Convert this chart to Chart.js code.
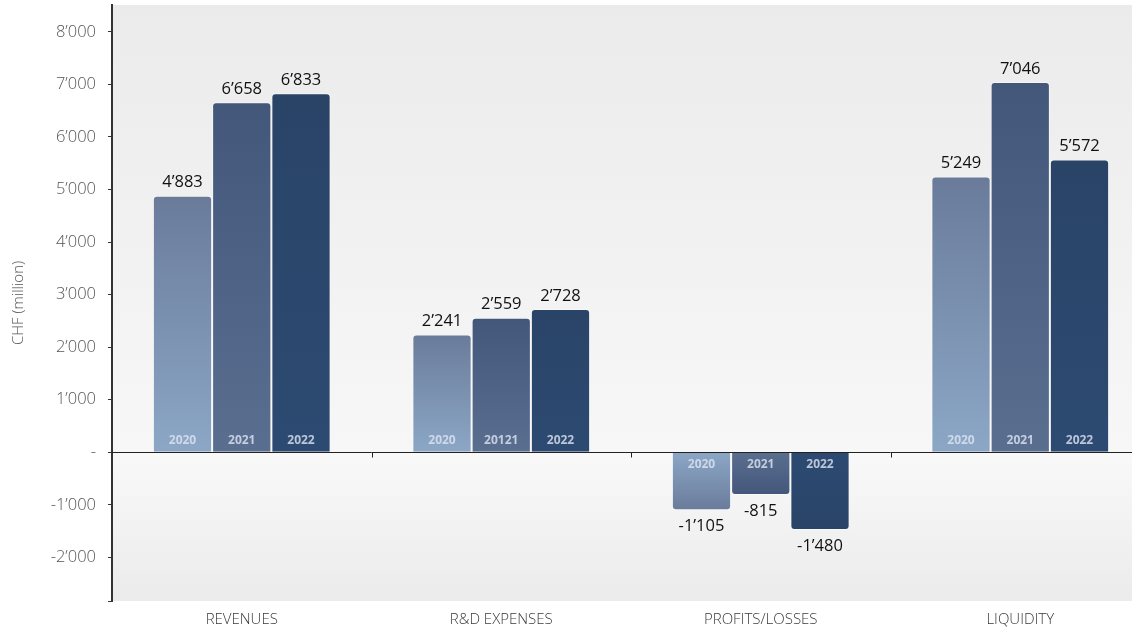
<!DOCTYPE html>
<html>
<head>
<meta charset="utf-8">
<script src="https://cdn.jsdelivr.net/npm/chart.js@4/dist/chart.umd.min.js"></script>
<style>
    html, body { margin: 0; padding: 0; background: #ffffff; overflow: hidden; }
    #wrap { width: 1150px; height: 628px; position: relative; }
</style>
</head>
<body>
<div id="wrap"><canvas id="FinanceChart"></canvas></div>
<script>
var categories = ["REVENUES", "R&D EXPENSES", "PROFITS/LOSSES", "LIQUIDITY"];
var years = ["2020", "2021", "2022"];
var values2020 = [4883, 2241, -1105, 5249];
var values2021 = [6658, 2559, -815, 7046];
var values2022 = [6833, 2728, -1480, 5572];
// year captions printed inside the bars (R&D 2021 reads "20121" in the source)
var yearCaptions = [
    ["2020", "2021", "2022"],
    ["2020", "20121", "2022"],
    ["2020", "2021", "2022"],
    ["2020", "2021", "2022"]
];
var yTickValues = [-2000, -1000, 0, 1000, 2000, 3000, 4000, 5000, 6000, 7000, 8000];
var yMin = -2830;
var yMax = 8510;

// tip colour, base colour (near zero)
var barColors = [
    ["#6a7b9a", "#8ca7c6"],
    ["#42577a", "#5a6e90"],
    ["#294467", "#2d4a72"]
];

function formatSwiss(value) {
    if (value === 0) {
        return "-";
    }
    var sign = value < 0 ? "-" : "";
    var text = String(Math.abs(value));
    return sign + text.replace(/\B(?=(\d{3})+(?!\d))/g, "\u2019");
}

function barGradient(context, index) {
    var chart = context.chart;
    var area = chart.chartArea;
    if (!area || !context.parsed) {
        return barColors[index][0];
    }
    var scale = chart.scales.y;
    var base = scale.getPixelForValue(0);
    var tip = scale.getPixelForValue(context.parsed.y);
    if (Math.abs(base - tip) < 1) {
        return barColors[index][0];
    }
    var gradient = chart.ctx.createLinearGradient(0, tip, 0, base);
    gradient.addColorStop(0, barColors[index][0]);
    gradient.addColorStop(1, barColors[index][1]);
    return gradient;
}

var backgroundPlugin = {
    id: "background",
    beforeDraw: function (chart) {
        var ctx = chart.ctx;
        var area = chart.chartArea;
        var zero = chart.scales.y.getPixelForValue(0);
        ctx.save();
        ctx.fillStyle = "#ffffff";
        ctx.fillRect(0, 0, chart.width, chart.height);
        var top = ctx.createLinearGradient(0, area.top, 0, zero);
        top.addColorStop(0, "#ebebeb");
        top.addColorStop(1, "#f7f7f7");
        ctx.fillStyle = top;
        ctx.fillRect(area.left, area.top, area.right - area.left, zero - area.top);
        var bottom = ctx.createLinearGradient(0, zero, 0, area.bottom);
        bottom.addColorStop(0, "#f9f9f9");
        bottom.addColorStop(1, "#ebebeb");
        ctx.fillStyle = bottom;
        ctx.fillRect(area.left, zero, area.right - area.left, area.bottom - zero);
        ctx.restore();
    }
};

var zeroLinePlugin = {
    id: "zeroLine",
    afterDatasetsDraw: function (chart) {
        var ctx = chart.ctx;
        var area = chart.chartArea;
        var x = chart.scales.x;
        var zero = Math.round(chart.scales.y.getPixelForValue(0)) + 0.5;
        ctx.save();
        ctx.strokeStyle = "#222222";
        ctx.lineWidth = 1;
        ctx.beginPath();
        ctx.moveTo(area.left, zero);
        ctx.lineTo(area.right, zero);
        for (var i = 1; i < categories.length; i++) {
            var bx = Math.round((x.getPixelForValue(i - 1) + x.getPixelForValue(i)) / 2) + 0.5;
            ctx.moveTo(bx, zero);
            ctx.lineTo(bx, zero + 5);
        }
        ctx.stroke();
        ctx.restore();
    }
};

var labelPlugin = {
    id: "barLabels",
    afterDatasetsDraw: function (chart) {
        var ctx = chart.ctx;
        var zero = chart.scales.y.getPixelForValue(0);
        ctx.save();
        ctx.textAlign = "center";
        ctx.textBaseline = "middle";
        chart.data.datasets.forEach(function (dataset, d) {
            var meta = chart.getDatasetMeta(d);
            meta.data.forEach(function (bar, i) {
                var value = dataset.data[i];
                ctx.font = "16.5px 'Open Sans', sans-serif";
                ctx.fillStyle = "#111111";
                var labelY = value >= 0 ? bar.y - 13 : bar.y + 16;
                ctx.fillText(formatSwiss(value), bar.x, labelY);
                ctx.font = "bold 12px 'Open Sans', sans-serif";
                ctx.fillStyle = "rgba(222, 230, 242, 0.8)";
                var captionY = value >= 0 ? zero - 12 : zero + 12;
                ctx.fillText(yearCaptions[i][d], bar.x, captionY);
            });
        });
        ctx.restore();
    }
};

function makeDataset(index, values) {
    return {
        label: years[index],
        data: values,
        backgroundColor: function (context) {
            return barGradient(context, index);
        },
        borderColor: "rgba(255,255,255,0.45)",
        borderWidth: 1,
        borderSkipped: "start",
        borderRadius: 4,
        barPercentage: 1.0,
        categoryPercentage: 0.685
    };
}

function setupFinanceChart() {
    var context = document.getElementById("FinanceChart").getContext("2d");
    var chart = new Chart(context, {
        type: "bar",
        data: {
            labels: categories,
            datasets: [
                makeDataset(0, values2020),
                makeDataset(1, values2021),
                makeDataset(2, values2022)
            ]
        },
        options: {
            responsive: true,
            maintainAspectRatio: false,
            animation: false,
            layout: { padding: { top: 5, right: 0, bottom: 0, left: 0 } },
            plugins: {
                legend: { display: false },
                tooltip: { enabled: false }
            },
            scales: {
                x: {
                    grid: { display: false, drawTicks: false },
                    border: { display: false },
                    ticks: {
                        color: "#3a3a3a",
                        font: { family: "'Open Sans', sans-serif", size: 15, weight: 300 },
                        padding: 10
                    },
                    afterFit: function (scale) {
                        scale.height = 27;
                        scale.paddingLeft = 0;
                        scale.paddingRight = 0;
                    }
                },
                y: {
                    min: yMin,
                    max: yMax,
                    afterBuildTicks: function (scale) {
                        var ticks = yTickValues.map(function (v) { return { value: v }; });
                        ticks.unshift({ value: yMin });
                        scale.ticks = ticks;
                    },
                    grid: {
                        drawOnChartArea: false,
                        drawTicks: true,
                        tickLength: 4,
                        color: "#333333"
                    },
                    border: { display: true, color: "#333333", width: 2 },
                    ticks: {
                        color: "#555555",
                        font: { family: "'Open Sans', sans-serif", size: 16.5, weight: 300 },
                        padding: 12,
                        callback: function (value) {
                            if (yTickValues.indexOf(value) === -1) {
                                return "";
                            }
                            return formatSwiss(value);
                        }
                    },
                    title: {
                        display: true,
                        text: "CHF (million)",
                        color: "#555555",
                        font: { family: "'Open Sans', sans-serif", size: 15, weight: 300 },
                        padding: { top: 10, bottom: 0 }
                    },
                    afterFit: function (scale) {
                        scale.width = 112;
                        scale.paddingTop = 0;
                        scale.paddingBottom = 0;
                    }
                }
            }
        },
        plugins: [backgroundPlugin, zeroLinePlugin, labelPlugin]
    });
}

setupFinanceChart();
</script>
</body>
</html>
